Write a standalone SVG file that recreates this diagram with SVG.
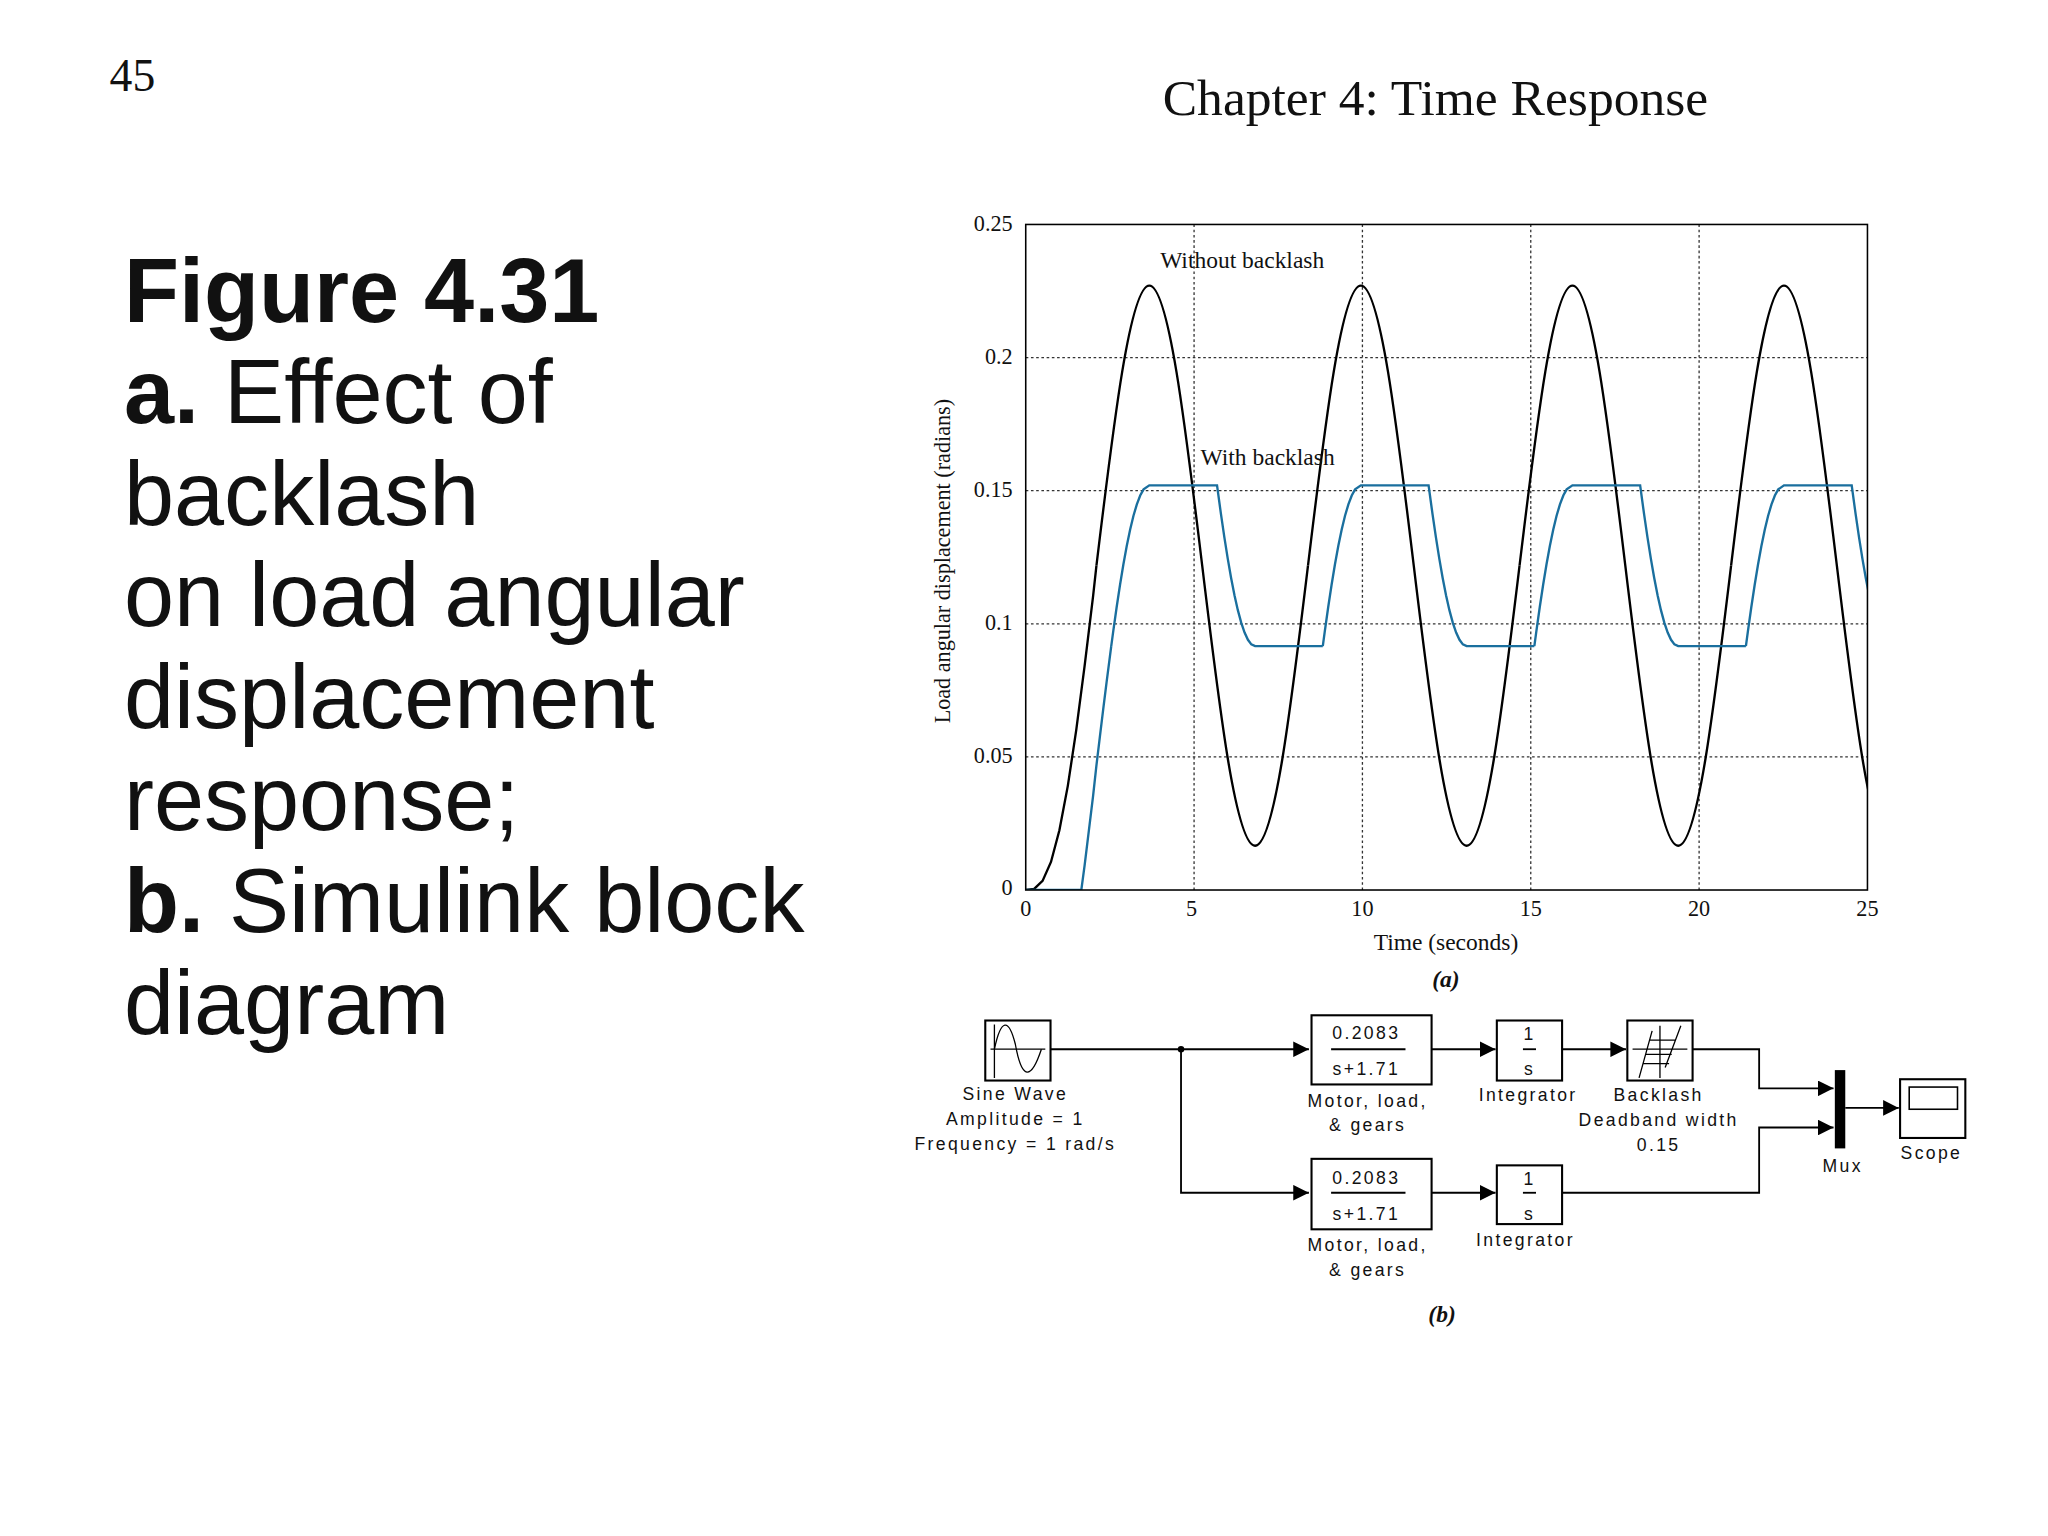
<svg xmlns="http://www.w3.org/2000/svg" xmlns:xlink="http://www.w3.org/1999/xlink" width="2048" height="1536" viewBox="0 0 2048 1536">
<style>
.serif{font-family:"Liberation Serif","Times New Roman",serif;fill:#111}
.sans{font-family:"Liberation Sans",Arial,sans-serif;fill:#111}
.blk{font-family:"Liberation Sans",Arial,sans-serif;font-size:13.5px;letter-spacing:1.8px;fill:#111;text-anchor:middle}
.grid{stroke:#333;stroke-width:1;stroke-dasharray:2 2;fill:none}
.box{fill:#fff;stroke:#000;stroke-width:1.6}
.wire{fill:none;stroke:#000;stroke-width:1.4}
.k{fill:none;stroke:#000;stroke-width:1.8}
.b{fill:none;stroke:#1a6f9e;stroke-width:1.8}
</style>
<defs>
<marker id="ar" viewBox="0 0 10 10" refX="10" refY="5" markerWidth="12" markerHeight="12" markerUnits="userSpaceOnUse" orient="auto"><path d="M0,0 L10,5 L0,10 z" fill="#000"/></marker>
<clipPath id="plot"><rect x="786" y="172" width="645" height="510"/></clipPath>
<path id="sinP" fill="none" stroke="#000" stroke-width="1.8" d="M840.18,433.5 C853.40,323.56 866.04,218.9 880.71,218.9 C895.37,218.9 908.02,323.56 921.23,433.5 C934.45,543.44 947.09,648.1 961.76,648.1 C976.43,648.1 989.07,543.44 1002.29,433.5"/>
<path id="blP" fill="none" stroke="#1a6f9e" stroke-width="1.8" d="M851.53,495.11 L853.08,483.61 L855.66,465.33 L858.24,448.24 L860.82,432.53 L863.40,418.39 L865.98,405.90 L868.56,395.24 L871.14,386.48 L873.72,379.70 L876.30,375.02 L880.71,371.89 L932.60,371.89 L935.64,394.21 L938.22,411.83 L940.80,428.11 L943.38,442.92 L945.96,456.12 L948.54,467.56 L951.12,477.13 L953.70,484.73 L956.28,490.28 L958.86,493.76 L961.76,495.11 L1013.63,495.11"/>
</defs>
<rect width="2048" height="1536" fill="#fff"/>
<g transform="scale(1.305)">
<text class="serif" x="84" y="70" font-size="35">45</text>
<text class="serif" x="891" y="88" font-size="39.5">Chapter 4: Time Response</text>
<g id="caption" class="sans" font-size="69">
<text x="95" y="247" font-weight="bold">Figure 4.31</text>
<text x="95" y="324"><tspan font-weight="bold">a.</tspan> Effect of</text>
<text x="95" y="402">backlash</text>
<text x="95" y="480">on load angular</text>
<text x="95" y="558">displacement</text>
<text x="95" y="636">response;</text>
<text x="95" y="714"><tspan font-weight="bold">b.</tspan> Simulink block</text>
<text x="95" y="792">diagram</text>
</g>
<g id="plotarea">
<path class="grid" d="M915,172V682M1044,172V682M1173,172V682M1302,172V682M786,274H1431M786,376H1431M786,478H1431M786,580H1431"/>
<g clip-path="url(#plot)">
<path class="k" d="M786,682 L792.45,681.2 L798.9,675 L805.35,660.5 L811.8,636.2 L818.25,602.2 L824.7,559.5 L831.15,510 L837.6,457 L840.18,433.5"/>
<path class="b" d="M786,682 L828.6,682 L831.15,663 L837.6,610 L840.18,586.49 L842.76,565.07 L845.34,543.85 L847.92,523.07 L851.53,495.11"/>
<use xlink:href="#sinP"/>
<use xlink:href="#sinP" transform="translate(162.11,0)"/>
<use xlink:href="#sinP" transform="translate(324.22,0)"/>
<use xlink:href="#sinP" transform="translate(486.33,0)"/>
<use xlink:href="#blP"/>
<use xlink:href="#blP" transform="translate(162.11,0)"/>
<use xlink:href="#blP" transform="translate(324.22,0)"/>
<use xlink:href="#blP" transform="translate(486.33,0)"/>
</g>
<rect x="786" y="172" width="645" height="510" fill="none" stroke="#000" stroke-width="1.2"/>
<g class="serif" font-size="17" text-anchor="end">
<text x="776" y="177">0.25</text><text x="776" y="279">0.2</text><text x="776" y="381">0.15</text><text x="776" y="483">0.1</text><text x="776" y="585">0.05</text><text x="776" y="686">0</text>
</g>
<g class="serif" font-size="17" text-anchor="middle">
<text x="786" y="702">0</text><text x="913" y="702">5</text><text x="1044" y="702">10</text><text x="1173" y="702">15</text><text x="1302" y="702">20</text><text x="1431" y="702">25</text>
<text x="1108" y="728" font-size="18">Time (seconds)</text>
<text x="1108" y="756" font-size="18" font-style="italic" font-weight="bold">(a)</text>
<text transform="translate(728,430) rotate(-90)" font-size="17">Load angular displacement (radians)</text>
</g>
<text class="serif" x="889" y="205" font-size="18">Without backlash</text>
<text class="serif" x="920" y="356" font-size="18">With backlash</text>
</g>
<g id="connectors">
<path class="wire" d="M805,804H1003" marker-end="url(#ar)"/>
<circle cx="905" cy="804" r="2.5"/>
<path class="wire" d="M905,804V914H1003" marker-end="url(#ar)"/>
<path class="wire" d="M1097,804H1146" marker-end="url(#ar)"/>
<path class="wire" d="M1197,804H1246" marker-end="url(#ar)"/>
<path class="wire" d="M1297,804H1348V834H1405" marker-end="url(#ar)"/>
<path class="wire" d="M1097,914H1146" marker-end="url(#ar)"/>
<path class="wire" d="M1197,914H1348V864H1405" marker-end="url(#ar)"/>
<path class="wire" d="M1414,849H1455" marker-end="url(#ar)"/>
</g>
<g id="sine">
<rect class="box" x="755" y="782" width="50" height="46"/>
<path d="M759,804H801M762,785V826" stroke="#000" stroke-width="1"/>
<path d="M762,804 C767,780 773,780 778,800 C783,828 790,828 798,804" fill="none" stroke="#000" stroke-width="1"/>
<text class="blk" x="778" y="843">Sine Wave</text>
<text class="blk" x="778" y="862">Amplitude = 1</text>
<text class="blk" x="778" y="881">Frequency = 1 rad/s</text>
</g>
<g id="motor1">
<rect class="box" x="1005" y="778" width="92" height="53"/>
<text class="blk" x="1047" y="796">0.2083</text>
<path d="M1020,804H1077" stroke="#000" stroke-width="1.4"/>
<text class="blk" x="1047" y="824">s+1.71</text>
<text class="blk" x="1048" y="848">Motor, load,</text>
<text class="blk" x="1048" y="867">&amp; gears</text>
</g>
<g id="int1">
<rect class="box" x="1147" y="782" width="50" height="46"/>
<text class="blk" x="1172" y="797">1</text>
<path d="M1167,804H1177" stroke="#000" stroke-width="1.4"/>
<text class="blk" x="1172" y="824">s</text>
<text class="blk" x="1171" y="844">Integrator</text>
</g>
<g id="backlash">
<rect class="box" x="1247" y="782" width="50" height="46"/>
<path d="M1251,804H1293M1272,786V826M1256,826L1266,790M1276,818L1288,786M1261,808H1281M1264,797H1284M1259,815H1279" fill="none" stroke="#000" stroke-width="1"/>
<text class="blk" x="1271" y="844">Backlash</text>
<text class="blk" x="1271" y="863">Deadband width</text>
<text class="blk" x="1271" y="882">0.15</text>
</g>
<g id="mux">
<rect x="1406" y="820" width="8" height="60" fill="#000"/>
<text class="blk" x="1412" y="898">Mux</text>
</g>
<g id="scope">
<rect class="box" x="1456" y="827" width="50" height="45"/>
<rect x="1463" y="833" width="37" height="17" fill="none" stroke="#000" stroke-width="1.2"/>
<text class="blk" x="1480" y="888">Scope</text>
</g>
<g id="motor2">
<rect class="box" x="1005" y="888" width="92" height="54"/>
<text class="blk" x="1047" y="907">0.2083</text>
<path d="M1020,914H1077" stroke="#000" stroke-width="1.4"/>
<text class="blk" x="1047" y="935">s+1.71</text>
<text class="blk" x="1048" y="959">Motor, load,</text>
<text class="blk" x="1048" y="978">&amp; gears</text>
</g>
<g id="int2">
<rect class="box" x="1147" y="893" width="50" height="45"/>
<text class="blk" x="1172" y="908">1</text>
<path d="M1167,914H1177" stroke="#000" stroke-width="1.4"/>
<text class="blk" x="1172" y="935">s</text>
<text class="blk" x="1169" y="955">Integrator</text>
</g>
<text class="serif" x="1105" y="1013" font-size="18" font-style="italic" font-weight="bold" text-anchor="middle">(b)</text>
</g>
</svg>
